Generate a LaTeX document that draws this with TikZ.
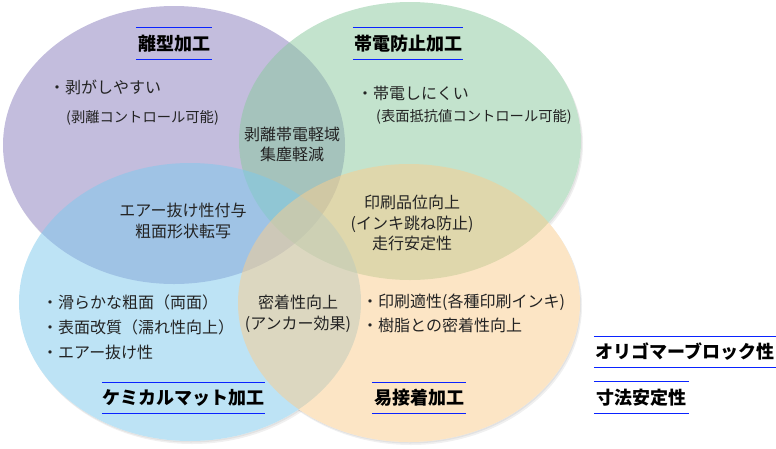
\documentclass[tikz,border=0pt]{standalone}
\usepackage{fontspec}
\setmainfont{Noto Sans CJK JP}
\usetikzlibrary{positioning}

\definecolor{vpurple}{RGB}{137,125,189}
\definecolor{vgreen}{RGB}{137,201,157}
\definecolor{vblue}{RGB}{125,201,237}
\definecolor{vorange}{RGB}{251,205,141}
\definecolor{txtgray}{RGB}{35,35,35}
\definecolor{lineblue}{RGB}{10,35,255}

\tikzset{
  item/.style={anchor=west, inner sep=0pt, text=txtgray, font=\fontsize{16}{18}\selectfont},
  note/.style={item, font=\fontsize{14.3}{16}\selectfont},
  mid/.style={align=center, inner sep=0pt, text=txtgray, font=\fontsize{16}{20.5}\selectfont},
  title/.style={inner sep=0pt, minimum height=31, font=\bfseries\fontsize{18}{20}\selectfont},
  titleline/.style={draw=lineblue, line width=1.2pt},
}

\begin{document}
\begin{tikzpicture}[x=1pt, y=-1pt]
  \useasboundingbox (0,0) rectangle (776,448);

  % soft shadows, then a white base, then the four sets
  \foreach \cx/\cy in {174/145, 410/141, 190/302, 409/303} {
    \fill[black, opacity=0.06] (\cx+2,\cy+3) ellipse [x radius=171, y radius=139];
    \fill[black, opacity=0.06] (\cx+1,\cy+1.5) ellipse [x radius=171, y radius=139];
  }
  \foreach \cx/\cy in {174/145, 410/141, 190/302, 409/303}
    \fill[white] (\cx,\cy) ellipse [x radius=171, y radius=139];
  \foreach \cx/\cy/\col in {174/145/vpurple, 410/141/vgreen, 190/302/vblue, 409/303/vorange}
    \fill[\col, opacity=0.5] (\cx,\cy) ellipse [x radius=171, y radius=139];

  % titles
  \node[title, minimum width=76]  (rikei)   at (174,43.5)  {離型加工};
  \node[title, minimum width=110] (taiden)  at (408,43.5)  {帯電防止加工};
  \node[title, minimum width=163] (chemmat) at (183.5,398) {ケミカルマット加工};
  \node[title, minimum width=94]  (ese)     at (419,398)   {易接着加工};
  \node[title, minimum width=182] (oligo)   at (685,352)   {オリゴマーブロック性};
  \node[title, minimum width=95]  (sunpo)   at (641.5,397.5) {寸法安定性};
  \foreach \t in {rikei, taiden, chemmat, ese, oligo, sunpo} {
    \draw[titleline] (\t.north west) -- (\t.north east);
    \draw[titleline] (\t.south west) -- (\t.south east);
  }

  % single-set texts
  \node[item] (hakuri)  at (49,87)   {・剥がしやすい};
  \node[note] (hakurin) at (66,118)  {(剥離コントロール可能)};
  \node[item] (taidenk) at (357,93)  {・帯電しにくい};
  \node[note] (hyomen)  at (376,117) {(表面抵抗値コントロール可能)};
  \node[item] (nameraka) at (42,302) {・滑らかな粗面（両面）};
  \node[item] (kaishitsu) at (42,327) {・表面改質（濡れ性向上）};
  \node[item] (air)     at (42,352)  {・エアー抜け性};
  \node[item] (insatsu) at (362,302) {・印刷適性(各種印刷インキ)};
  \node[item] (jushi)   at (362,325) {・樹脂との密着性向上};

  % overlap texts
  \node[mid] (pg) at (292,144.5) {剥離帯電軽域\\集塵軽減};
  \node[mid] (pb) at (183,221)   {エアー抜け性付与\\粗面形状転写};
  \node[mid] (go) at (412,223)   {印刷品位向上\\(インキ跳ね防止)\\走行安定性};
  \node[mid] (bo) at (298,314)   {密着性向上\\(アンカー効果)};
\end{tikzpicture}
\end{document}
